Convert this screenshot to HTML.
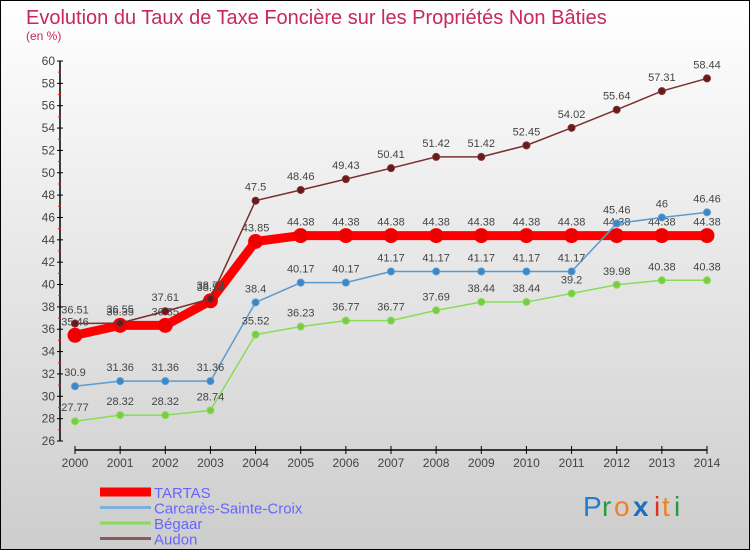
<!DOCTYPE html>
<html><head><meta charset="utf-8"><style>
html,body{margin:0;padding:0}
body{width:750px;height:550px;overflow:hidden;font-family:"Liberation Sans",sans-serif}
</style></head><body>
<svg id="chart" width="750" height="550" xmlns="http://www.w3.org/2000/svg">
<defs><linearGradient id="bg" x1="0" y1="0" x2="0" y2="1"><stop offset="0" stop-color="#ffffff"/><stop offset="1" stop-color="#cdcdcd"/></linearGradient></defs>
<rect x="0.5" y="0.5" width="749" height="549" fill="url(#bg)" stroke="#000" stroke-width="1"/>
<text x="26" y="24" font-size="20" fill="#c8285a">Evolution du Taux de Taxe Foncière sur les Propriétés Non Bâties</text>
<text x="26" y="40" font-size="12" fill="#c8285a">(en %)</text>
<g id="axes"></g><g id="series"></g><g id="legend"></g>
<g font-size="28" font-family="Liberation Sans, sans-serif">
<text x="583" y="516" fill="#1e7fd0">P</text><text x="602" y="516" fill="#2a9a3a">r</text><text x="614" y="516" fill="#f08020">o</text><text x="633" y="516" fill="#1e6fc0" font-weight="bold">x</text><text x="654" y="516" fill="#e03020">i</text><text x="662" y="516" fill="#f08020">t</text><text x="674" y="516" fill="#2a9a3a">i</text>
</g>
</svg>
<script>
const years=[2000,2001,2002,2003,2004,2005,2006,2007,2008,2009,2010,2011,2012,2013,2014];
const tartas=[35.46,36.35,36.35,38.54,43.85,44.38,44.38,44.38,44.38,44.38,44.38,44.38,44.38,44.38,44.38];
const carcares=[30.9,31.36,31.36,31.36,38.4,40.17,40.17,41.17,41.17,41.17,41.17,41.17,45.46,46,46.46];
const begaar=[27.77,28.32,28.32,28.74,35.52,36.23,36.77,36.77,37.69,38.44,38.44,39.2,39.98,40.38,40.38];
const audon=[36.51,36.55,37.61,38.72,47.5,48.46,49.43,50.41,51.42,51.42,52.45,54.02,55.64,57.31,58.44];
const yTicks=[26,28,30,32,34,36,38,40,42,44,46,48,50,52,54,56,58,60];
const NS="http://www.w3.org/2000/svg";
const X=i=>75+i*(632/14);
const Y=v=>441-(v-26)*(380/34);
function mk(p,t,a){const e=document.createElementNS(NS,t);for(const k in a)e.setAttribute(k,a[k]);p.appendChild(e);return e;}
const ax=document.getElementById('axes');
let yl=mk(ax,'line',{x1:60,y1:61,x2:60,y2:441,stroke:'#000','stroke-width':1.5});


let xl=mk(ax,'line',{x1:75,y1:450,x2:707,y2:450,stroke:'#000','stroke-width':1.5});


yTicks.forEach((v,k)=>{
  mk(ax,'line',{x1:57,y1:Y(v),x2:63,y2:Y(v),stroke:'#000'});
  if(k<yTicks.length-1) mk(ax,'line',{x1:58,y1:Y(v+1),x2:61,y2:Y(v+1),stroke:'#e02020'});
  const t=mk(ax,'text',{x:55,y:Y(v)+4,'text-anchor':'end','font-size':12,fill:'#444'});
  t.textContent=v;
  
  
});
years.forEach((yr,i)=>{
  mk(ax,'line',{x1:X(i),y1:446,x2:X(i),y2:454,stroke:'#000'});
  const t=mk(ax,'text',{x:X(i),y:467,'text-anchor':'middle','font-size':12,fill:'#444'});
  t.textContent=yr;
  
  
});
const sg=document.getElementById('series');
function draw(data,color,w,r,fill,name){
  const g=mk(sg,'g',{});
  
  
  const pl=mk(g,'polyline',{points:data.map((v,i)=>X(i)+','+Y(v)).join(' '),fill:'none',stroke:color,'stroke-width':w});
  
  
  data.forEach((v,i)=>{
    const c=mk(g,'circle',{cx:X(i),cy:Y(v),r:r,fill:fill,stroke:color,'stroke-width':1});
    
    
    const t=mk(g,'text',{x:X(i),y:Y(v)-10,'text-anchor':'middle','font-size':11,fill:'#444'});
    t.textContent=v;
    
    
  });
}
draw(tartas,'#ff0000',9,7,'#ee0000','tartas');
draw(carcares,'#5a9bd0',1.5,3.5,'#3a88c8','carcares');
draw(begaar,'#88dd55',1.5,3.5,'#77cc44','begaar');
draw(audon,'#7a3030',1.5,3.5,'#6a1a1a','audon');
const lg=document.getElementById('legend');
const items=[['TARTAS','#ff0000',9],['Carcarès-Sainte-Croix','#7fb0d8',3],['Bégaar','#88dd55',3],['Audon','#8a5a5a',3]];
items.forEach((it,k)=>{
  const y=492+k*15.5;
  const l=mk(lg,'line',{x1:100,y1:y,x2:151,y2:y,stroke:it[1],'stroke-width':it[2]});
  
  
  const t=mk(lg,'text',{x:154,y:y+6,'font-size':15,fill:'#6666ff'});
  t.textContent=it[0];
  
  
});
</script>
</body></html>
